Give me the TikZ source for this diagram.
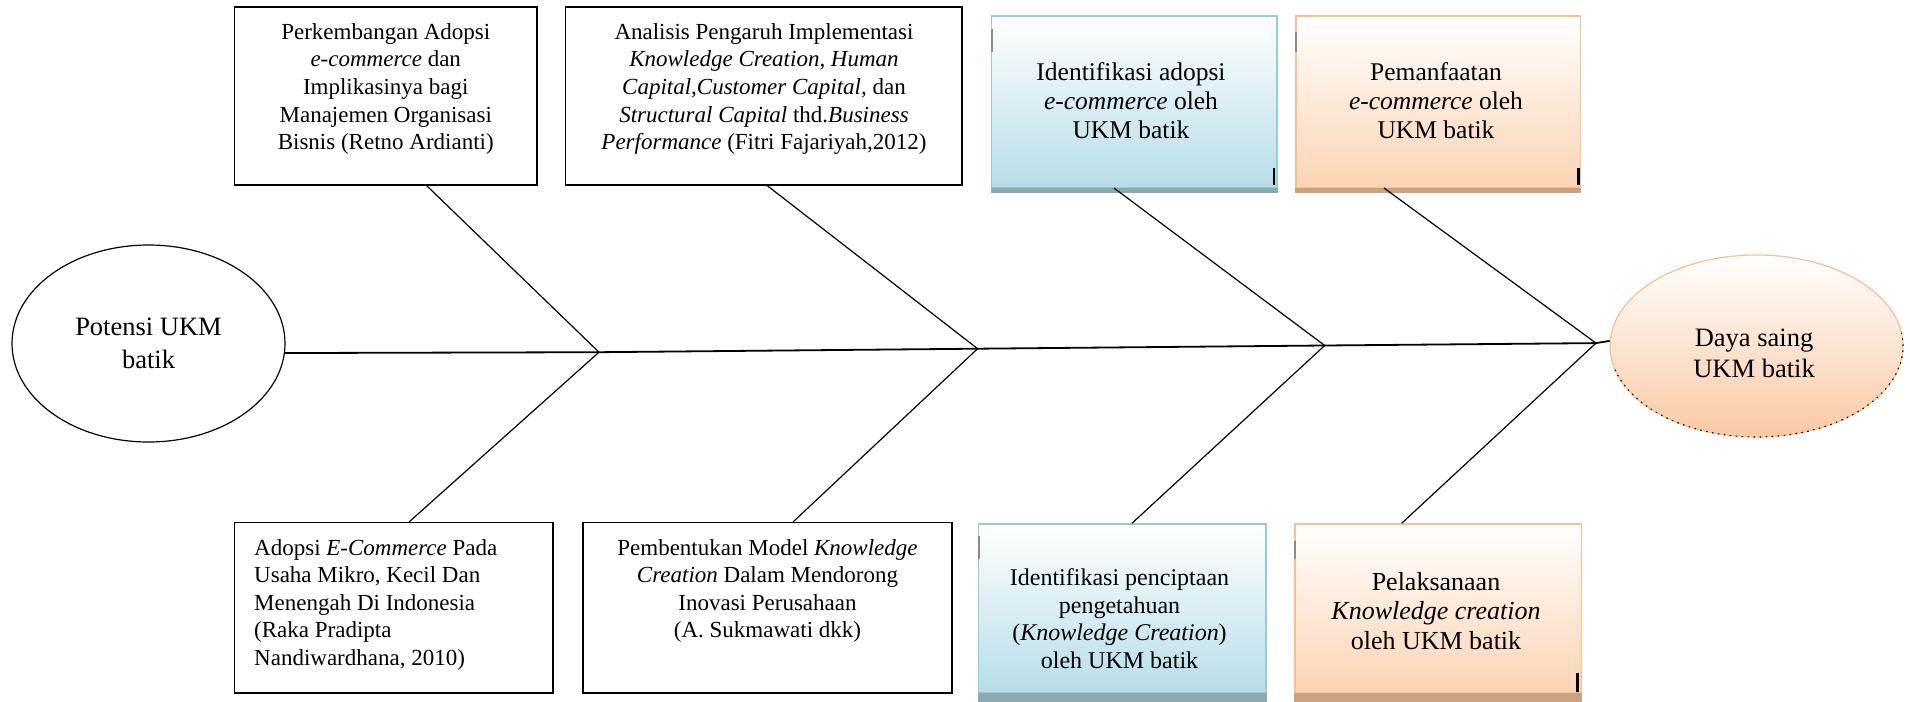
\documentclass[tikz,border=0pt]{standalone}
\usepackage{fontspec}
\setmainfont{Liberation Serif}
\usetikzlibrary{shapes.geometric,calc}
\definecolor{blueFill}{HTML}{B7DDE8}
\definecolor{blueEdge}{HTML}{93CDDD}
\definecolor{blueStrip}{HTML}{8EA8B0}
\definecolor{orFill}{HTML}{FBD4B4}
\definecolor{orEdge}{HTML}{F9BF8F}
\definecolor{orStrip}{HTML}{C9A283}
\definecolor{dayaFill}{HTML}{F8C9A5}
\begin{document}
\begin{tikzpicture}[x=1pt,y=-1pt,
  wbox/.style={draw=black, line width=1.4pt, fill=white, inner sep=0pt},
  bluebox/.style={draw=blueEdge, line width=1.5pt, top color=white, bottom color=blueFill, inner sep=0pt},
  orbox/.style={draw=orEdge, line width=1.5pt, top color=white, bottom color=orFill, inner sep=0pt},
  wtext/.style={align=center, inner sep=0pt, font=\fontsize{23}{27.6}\selectfont},
  ctext/.style={align=center, inner sep=0pt, font=\fontsize{25.5}{29}\selectfont},
  bone/.style={draw=black, line width=1.2pt},
  spine/.style={draw=black, line width=1.8pt},
  tickb/.style={draw=black, line width=2.4pt},
  tickg/.style={draw=black!45, line width=2.4pt}]
\useasboundingbox (0,0) rectangle (1910,701);

% upper boxes
\node[wbox, minimum width=302.5pt, minimum height=178pt] (b1) at (385.75,96) {};
\node[wbox, minimum width=396.3pt, minimum height=178pt] (b2) at (763.85,96) {};
\node[bluebox, minimum width=285.3pt, minimum height=171.3pt] (b3) at (1134.35,101.65) {};
\node[orbox, minimum width=284.6pt, minimum height=171.3pt] (b4) at (1438.3,101.65) {};
% lower boxes
\node[wbox, minimum width=318.5pt, minimum height=170.3pt] (l1) at (393.75,607.85) {};
\node[wbox, minimum width=369pt, minimum height=170.3pt] (l2) at (767.5,607.85) {};
\node[bluebox, minimum width=287.7pt, minimum height=168.7pt] (l3) at (1122.15,608.35) {};
\node[orbox, minimum width=286.7pt, minimum height=168.7pt] (l4) at (1438.35,608.35) {};

% bottom strips
\fill[blueStrip] (b3.south west) rectangle ($(b3.south east)+(0,5.4)$);
\fill[orStrip] (b4.south west) rectangle ($(b4.south east)+(0,5.4)$);
\fill[blueStrip] (l3.south west) rectangle ($(l3.south east)+(0,8.5)$);
\fill[orStrip] (l4.south west) rectangle ($(l4.south east)+(0,8.5)$);

% small marks
\draw[tickg] ($(b3.north west)+(0.8,14)$) -- ++(0,23);
\draw[tickb] ($(b3.south east)+(-3.8,-3.5)$) -- ++(0,-17);
\draw[tickg] ($(b4.north west)+(0.5,17)$) -- ++(0,20);
\draw[tickb] ($(b4.south east)+(-3,-3.5)$) -- ++(0,-17);
\draw[tickg] ($(l3.north west)+(1.5,12.7)$) -- ++(0,23);
\draw[tickg] ($(l4.north west)+(1,17.7)$) -- ++(0,18);
\draw[tickb] ($(l4.south east)+(-5,-1.5)$) -- ++(0,-18.5);

% texts
\node[wtext] (b1t) at (385.75,89) {Perkembangan Adopsi\\ \textit{e-commerce} dan\\ Implikasinya bagi\\ Manajemen Organisasi\\ Bisnis (Retno Ardianti)};
\node[wtext] (b2t) at (764,89) {Analisis Pengaruh Implementasi\\ \textit{Knowledge Creation, Human}\\ \textit{Capital,Customer Capital,} dan\\ \textit{Structural Capital} thd.\textit{Business}\\ \textit{Performance} (Fitri Fajariyah,2012)};
\node[ctext] (b3t) at (1131,101) {Identifikasi adopsi\\ \textit{e-commerce} oleh\\ UKM batik};
\node[ctext] (b4t) at (1436,101) {Pemanfaatan\\ \textit{e-commerce} oleh\\ UKM batik};
\node[wtext, align=left, anchor=west] (l1t) at (254,604.7) {Adopsi \textit{E-Commerce} Pada\\ Usaha Mikro, Kecil Dan\\ Menengah Di Indonesia\\ (Raka Pradipta\\ Nandiwardhana, 2010)};
\node[wtext] (l2t) at (767.5,591) {Pembentukan Model \textit{Knowledge}\\ \textit{Creation} Dalam Mendorong\\ Inovasi Perusahaan\\ (A. Sukmawati dkk)};
\node[align=center, inner sep=0pt, font=\fontsize{24}{27.6}\selectfont] (l3t) at (1119.5,618.7) {Identifikasi penciptaan\\ pengetahuan\\ (\textit{Knowledge Creation})\\ oleh UKM batik};
\node[align=center, inner sep=0pt, font=\fontsize{26}{29.5}\selectfont] (l4t) at (1436,611) {Pelaksanaan\\ \textit{Knowledge creation}\\ oleh UKM batik};

% head and tail
\node[ellipse, draw=black, line width=1.2pt, minimum width=273pt, minimum height=197pt, inner sep=0pt,
  align=center, font=\fontsize{26.5}{33}\selectfont] (pot) at (148.5,343.5) {Potensi UKM\\ batik};
\node[ellipse, draw=orEdge, line width=1.2pt, top color=white, bottom color=dayaFill,
  minimum width=293pt, minimum height=182pt, inner sep=0pt] (daya) at (1756.5,346) {};
\draw[black, line width=1.1pt, dash pattern=on 1.5pt off 4.5pt]
  ($(daya.center)+(195:146.5pt and 91pt)$) arc[start angle=195, end angle=368, x radius=146.5pt, y radius=91pt];
\node[align=center, inner sep=0pt, font=\fontsize{26.5}{31}\selectfont] (dayat) at (1754,353) {Daya saing\\ UKM batik};

% spine junctions
\coordinate (j1) at (599,352.2);
\coordinate (j2) at (977.6,348.7);
\coordinate (j3) at (1324.7,345.5);
\coordinate (j4) at (1596,343.1);

\draw[spine] (pot.-4.8) -- (j1) -- (j2) -- (j3) -- (j4) -- (daya.178.8);

% bones
\draw[bone] ([xshift=40.95pt]b1.south) -- (j1);
\draw[bone] ([xshift=3.45pt]b2.south) -- (j2);
\draw[bone] ([xshift=-20.35pt]b3.south) -- (j3);
\draw[bone] ([xshift=-54.3pt]b4.south) -- (j4);
\draw[bone] (j1) -- ([xshift=15.25pt]l1.north);
\draw[bone] (j2) -- ([xshift=25.5pt]l2.north);
\draw[bone] (j3) -- ([xshift=9.85pt]l3.north);
\draw[bone] (j4) -- ([xshift=-36.65pt]l4.north);
\end{tikzpicture}
\end{document}
